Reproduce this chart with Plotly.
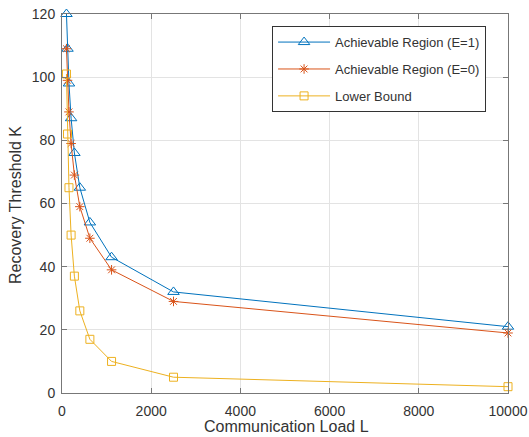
import plotly.graph_objects as go

# Communication load L (x) shared by all series
load_L = [100, 123.5, 156.25, 204.1, 277.8, 400, 625, 1111.1, 2500, 10000]
# Recovery thresholds K
achievable_e1 = [120, 109, 98, 87, 76, 65, 54, 43, 32, 21]
achievable_e0 = [109, 99, 89, 79, 69, 59, 49, 39, 29, 19]
lower_bound = [101, 82, 65, 50, 37, 26, 17, 10, 5, 2]

series_names = ["Achievable Region (E=1)", "Achievable Region (E=0)", "Lower Bound"]
x_ticks = [0, 2000, 4000, 6000, 8000, 10000]
x_tick_text = ["0", "2000", "4000", "6000", "8000", "10000"]
y_ticks = [0, 20, 40, 60, 80, 100, 120]
x_title = "Communication Load L"
y_title = "Recovery Threshold K"

colors = ["#0072BD", "#D95319", "#EDB120"]
symbols = ["triangle-up-open", "asterisk-open", "square-open"]
sizes = [10, 8, 8]
font_family = "Liberation Sans, Arial"
text_color = "#333333"

fig = go.Figure()
for i, (name, ys, c, s, sz) in enumerate(zip(series_names, [achievable_e1, achievable_e0, lower_bound], colors, symbols, sizes)):
    fig.add_trace(go.Scatter(
        x=load_L, y=ys, name=name, mode="lines+markers", legendgroup=f"g{i}",
        line=dict(color=c, width=1),
        marker=dict(symbol=s, size=sz, color=c, line=dict(color=c, width=1)),
        cliponaxis=False,
    ))

axis_common = dict(
    showline=True, linecolor="#777777", linewidth=1, mirror="ticks",
    ticks="inside", ticklen=5, tickcolor="#777777",
    showgrid=True, gridcolor="#e3e3e3", gridwidth=1,
    zeroline=False, automargin=False,
    tickfont=dict(family=font_family, size=14, color=text_color),
)

fig.update_layout(
    width=529, height=437,
    margin=dict(l=62, r=21, t=14, b=44),
    paper_bgcolor="white", plot_bgcolor="white",
    showlegend=True,
    legend=dict(
        x=0.471, y=0.968, xanchor="left", yanchor="top",
        bgcolor="white", bordercolor="#333333", borderwidth=1,
        font=dict(family=font_family, size=13, color=text_color),
        tracegroupgap=7, itemwidth=52,
    ),
    xaxis=dict(range=[0, 10000], tickvals=x_ticks, ticktext=x_tick_text, ticklabelstandoff=5, **axis_common),
    yaxis=dict(range=[0, 120], tickvals=y_ticks, ticklabelstandoff=3, **axis_common),
    annotations=[
        dict(text=x_title, xref="paper", yref="paper", x=0.503, y=-0.0897,
             xanchor="center", yanchor="middle", showarrow=False,
             font=dict(family=font_family, size=16, color=text_color)),
        dict(text=y_title, xref="paper", yref="paper", x=-0.1054, y=0.496,
             xanchor="center", yanchor="middle", showarrow=False, textangle=-90,
             font=dict(family=font_family, size=16, color=text_color)),
    ],
)

fig.write_html("out.html")
